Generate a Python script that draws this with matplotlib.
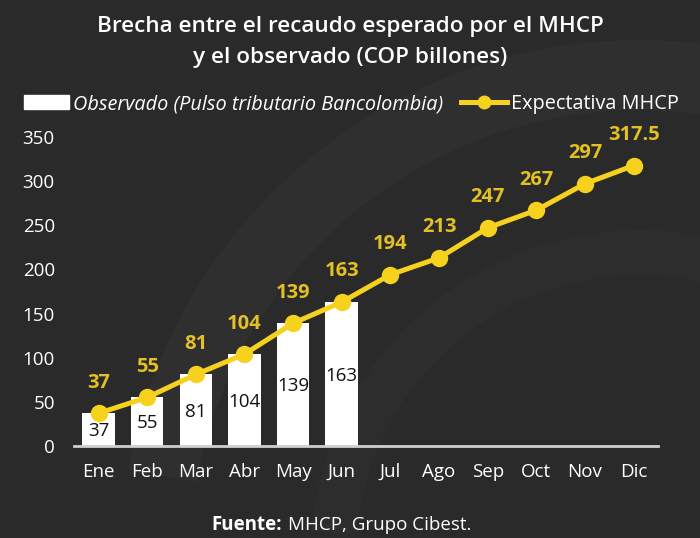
import numpy as np
import matplotlib.pyplot as plt
from matplotlib.patches import Wedge, Rectangle
from matplotlib.lines import Line2D

plt.rcParams['font.family'] = ['Open Sans', 'DejaVu Sans']

meses = ['Ene', 'Feb', 'Mar', 'Abr', 'May', 'Jun',
         'Jul', 'Ago', 'Sep', 'Oct', 'Nov', 'Dic']
observado = [37, 55, 81, 104, 139, 163]
expectativa = [37, 55, 81, 104, 139, 163, 194, 213, 247, 267, 297, 317.5]
yticks = [0, 50, 100, 150, 200, 250, 300, 350]

BG = '#2a2a2a'
YELLOW = '#f6d21f'
YELLOW_TXT = '#e3c023'

fig = plt.figure(figsize=(7, 5.38), dpi=100, facecolor=BG)

# faint watermark band in the background
bg = fig.add_axes([0, 0, 1, 1], zorder=-1)
bg.set_xlim(0, 700)
bg.set_ylim(538, 0)
bg.axis('off')
bg.add_patch(Wedge((640, 560), 520, 190, 300, width=70, color='#2f2f2f', lw=0))
bg.add_patch(Wedge((640, 560), 330, 185, 300, width=45, color='#2d2d2d', lw=0))

ax = fig.add_axes([0.106, 0.171, 0.834, 0.591])
ax.set_facecolor('none')

x = np.arange(len(meses))
xb = x[:len(observado)]
bars = ax.bar(xb, observado, width=0.67, color='white', zorder=2)
line, = ax.plot(x, expectativa, color=YELLOW, lw=3.6, marker='o', ms=11.5,
                zorder=3, clip_on=False)

for xi, v in zip(xb, observado):
    ax.text(xi, v / 2 - 2, f'{v}', ha='center', va='center', fontsize=13.5,
            color='#111111', zorder=4)

for xi, v in zip(x, expectativa):
    lab = f'{v:g}'
    ax.annotate(lab, (xi, v), xytext=(0, 22), textcoords='offset points',
                ha='center', va='center', fontsize=14.5, fontweight='bold',
                color=YELLOW_TXT, zorder=4, annotation_clip=False)

ax.set_xlim(-0.5, 11.5)
ax.set_ylim(0, 360)
ax.set_xticks(x)
ax.set_xticklabels(meses)
ax.set_yticks(yticks)
ax.tick_params(length=0, labelsize=13.5, colors='white')
ax.tick_params(axis='x', pad=12)
ax.tick_params(axis='y', pad=14)
for s in ['top', 'right', 'left']:
    ax.spines[s].set_visible(False)
ax.spines['bottom'].set_color('#cfcfcf')
ax.spines['bottom'].set_linewidth(2)
ax.spines['bottom'].set_zorder(5)

fig.text(0.5, 0.95, 'Brecha entre el recaudo esperado por el MHCP',
         ha='center', va='center', fontsize=16.2, fontweight='semibold', color='white')
fig.text(0.5, 0.894, 'y el observado (COP billones)',
         ha='center', va='center', fontsize=16.2, fontweight='semibold', color='white')

h_bar = Rectangle((0, 0), 1, 1, color='white')
h_line = Line2D([], [], color=YELLOW, lw=3.6, marker='o', ms=9)
leg = fig.legend([h_bar, h_line],
                 ['Observado (Pulso tributario Bancolombia)', 'Expectativa MHCP'],
                 loc='center', bbox_to_anchor=(0.502, 0.806), ncol=2, frameon=False,
                 fontsize=14.3, handlelength=2.3, handletextpad=0.2, columnspacing=0.9,
                 labelcolor='white')
leg.get_texts()[0].set_fontstyle('italic')

fig.text(0.403, 0.025, 'Fuente:', ha='right', va='center', fontsize=13.5,
         fontweight='bold', color='white')
fig.text(0.411, 0.025, 'MHCP, Grupo Cibest.', ha='left', va='center', fontsize=13.5,
         color='white')

fig.savefig('out.png', dpi=100, facecolor=BG)
